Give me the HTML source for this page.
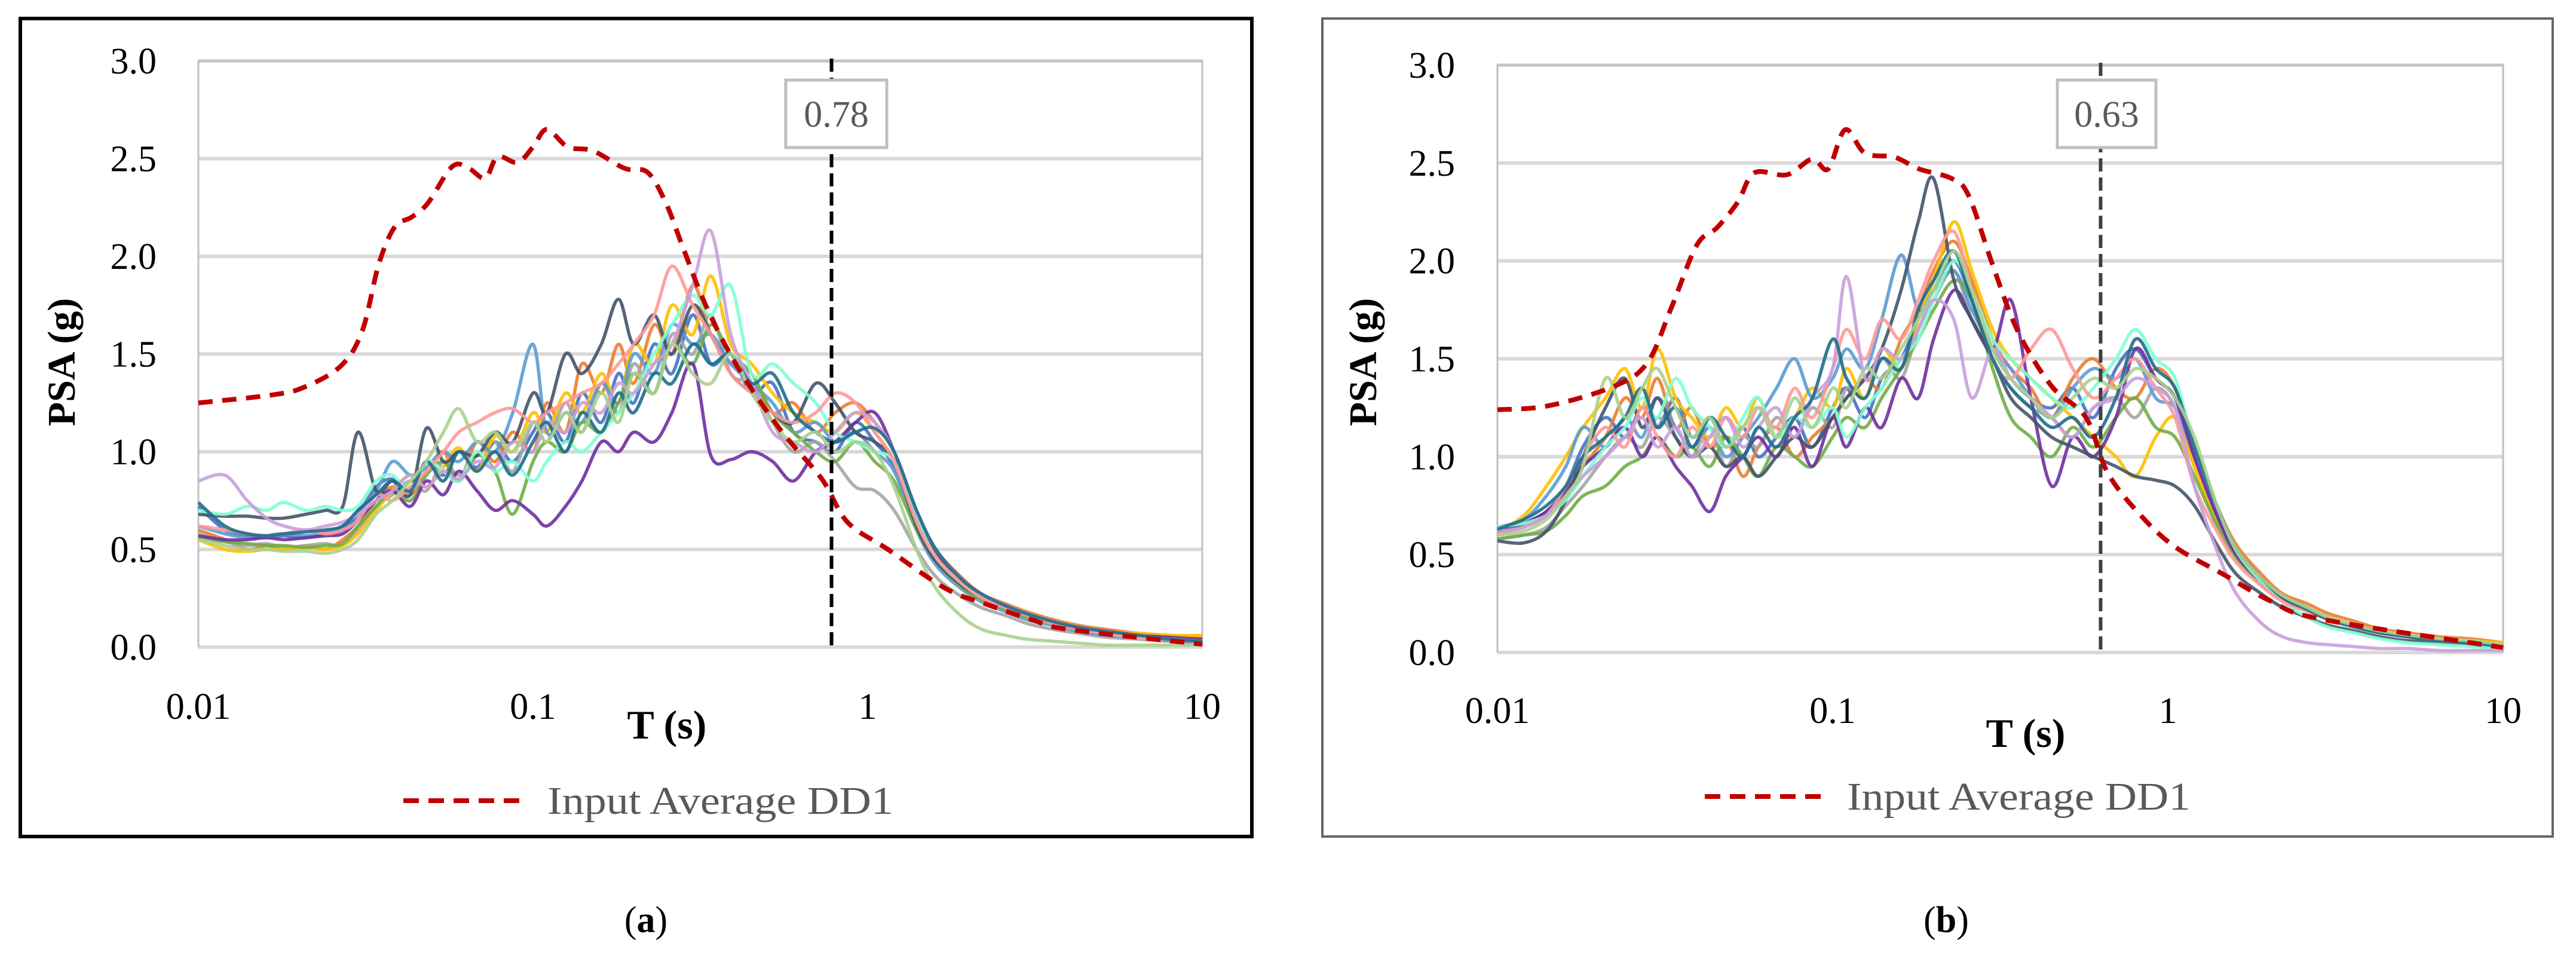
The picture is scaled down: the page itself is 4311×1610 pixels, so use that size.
<!DOCTYPE html>
<html><head><meta charset="utf-8"><style>
html,body{margin:0;padding:0;background:#fff}
svg{display:block}
text{font-family:"Liberation Serif",serif}
</style></head><body>
<svg id="fig" width="4311" height="1610" viewBox="0 0 4311 1610" xmlns="http://www.w3.org/2000/svg">
<rect x="0" y="0" width="4311" height="1610" fill="#fff"/>
<rect x="34" y="31" width="2061" height="1369" fill="none" stroke="#000" stroke-width="6"/>
<rect x="2213" y="31" width="2059" height="1369" fill="none" stroke="#666" stroke-width="4"/>
<g id="pa"></g>
<g id="pb"></g>
<text x="1081" y="1560" font-size="62" text-anchor="middle">(<tspan font-weight="bold">a</tspan>)</text>
<text x="3257" y="1560" font-size="62" text-anchor="middle">(<tspan font-weight="bold">b</tspan>)</text>
</svg>
<script>
const periods=[0.01,0.012,0.014,0.016,0.018,0.021,0.024,0.027,0.03,0.034,0.038,0.043,0.048,0.054,0.06,0.068,0.077,0.087,0.1,0.11,0.125,0.14,0.16,0.18,0.2,0.23,0.26,0.3,0.34,0.39,0.45,0.52,0.6,0.7,0.8,0.92,1.05,1.2,1.4,1.6,1.9,2.2,2.6,3.0,3.6,4.3,5.2,6.5,8,10];
const yTicks=[0,0.5,1,1.5,2,2.5,3];
const yTickLabels=["0.0","0.5","1.0","1.5","2.0","2.5","3.0"];
const xTicks=[0.01,0.1,1,10];
const xTickLabels=["0.01","0.1","1","10"];
const seriesColors=["#4472c4","#ed7d31","#a5a5a5","#ffc000","#5b9bd5","#70ad47","#7030a0","#44546a","#7fffd4","#ff9999","#c9a0dc","#1f6e8c","#a9d18e","#9e480e"];
const avgPeriodsA=[0.01,0.0165,0.0207,0.0267,0.0309,0.0346,0.0386,0.0433,0.0484,0.0574,0.0643,0.072,0.0784,0.0899,0.1,0.11,0.127,0.151,0.188,0.22,0.25,0.28,0.33,0.41,0.55,0.73,0.87,1.15,1.71,2.26,3.1,4.0,10];
const avgValuesA=[1.25,1.29,1.33,1.44,1.62,1.96,2.15,2.2,2.27,2.46,2.45,2.4,2.51,2.48,2.56,2.65,2.56,2.54,2.45,2.43,2.27,2.05,1.74,1.43,1.11,0.86,0.64,0.5,0.3,0.22,0.14,0.09,0.015];
const avgPeriodsB=[0.01,0.0142,0.0223,0.028,0.033,0.0393,0.0452,0.0521,0.0584,0.073,0.0868,0.097,0.109,0.125,0.153,0.181,0.227,0.255,0.3,0.357,0.45,0.57,0.66,0.83,1.05,1.46,2.04,2.87,10];
const avgValuesB=[1.24,1.26,1.36,1.48,1.76,2.08,2.17,2.3,2.45,2.44,2.52,2.47,2.67,2.55,2.53,2.47,2.42,2.33,1.98,1.64,1.36,1.2,0.92,0.7,0.54,0.4,0.26,0.17,0.025];
const seriesA=[
[0.72,0.60,0.57,0.56,0.57,0.56,0.58,0.60,0.68,0.82,0.86,0.80,0.95,0.88,1.00,0.92,1.05,0.95,1.10,1.20,1.05,1.30,1.15,1.40,1.25,1.55,1.40,1.70,1.45,1.50,1.30,1.35,1.10,1.05,1.00,1.15,1.05,0.92,0.62,0.45,0.33,0.25,0.20,0.16,0.12,0.09,0.07,0.05,0.03,0.02],
[0.60,0.55,0.50,0.52,0.50,0.52,0.50,0.55,0.62,0.75,0.82,0.78,0.90,1.00,0.85,1.05,0.95,1.10,1.00,1.25,1.10,1.45,1.30,1.55,1.35,1.65,1.50,1.85,1.60,1.45,1.40,1.20,1.25,1.10,1.20,1.25,1.15,1.00,0.70,0.50,0.36,0.27,0.22,0.18,0.14,0.11,0.09,0.07,0.06,0.05],
[0.58,0.54,0.52,0.53,0.51,0.52,0.53,0.52,0.60,0.72,0.78,0.85,0.80,0.95,0.88,0.98,1.05,0.90,1.15,1.05,1.25,1.10,1.35,1.20,1.45,1.30,1.60,1.50,1.70,1.40,1.35,1.15,1.00,1.05,0.95,0.82,0.80,0.70,0.50,0.36,0.26,0.20,0.16,0.12,0.09,0.07,0.05,0.04,0.03,0.02],
[0.55,0.50,0.49,0.50,0.50,0.51,0.50,0.52,0.58,0.70,0.80,0.88,0.82,0.92,1.02,0.90,1.08,1.00,1.20,1.10,1.30,1.20,1.40,1.25,1.55,1.45,1.75,1.60,1.90,1.55,1.45,1.30,1.20,1.15,1.10,1.20,1.10,0.95,0.65,0.48,0.34,0.26,0.21,0.17,0.13,0.10,0.08,0.07,0.06,0.06],
[0.62,0.58,0.56,0.57,0.58,0.57,0.59,0.62,0.70,0.80,0.95,0.88,0.92,1.00,0.95,1.05,1.00,1.20,1.55,1.10,1.20,1.15,1.35,1.25,1.50,1.40,1.65,1.55,1.60,1.45,1.35,1.25,1.10,1.15,1.05,1.10,1.00,0.90,0.60,0.42,0.30,0.23,0.18,0.14,0.11,0.08,0.06,0.05,0.04,0.03],
[0.56,0.54,0.53,0.52,0.52,0.51,0.52,0.53,0.62,0.72,0.80,0.75,0.88,0.95,0.85,0.98,0.90,0.68,0.95,1.05,1.00,1.15,1.10,1.25,1.40,1.30,1.55,1.45,1.65,1.50,1.40,1.20,1.10,1.00,0.95,1.05,0.95,0.85,0.60,0.44,0.31,0.24,0.19,0.15,0.12,0.09,0.07,0.05,0.04,0.03],
[0.57,0.55,0.55,0.56,0.55,0.56,0.57,0.58,0.65,0.75,0.80,0.72,0.85,0.78,0.90,0.80,0.70,0.75,0.68,0.62,0.72,0.85,1.05,1.00,1.10,1.05,1.20,1.45,0.98,0.96,1.00,0.95,0.85,1.00,1.05,1.15,1.20,1.00,0.68,0.48,0.34,0.26,0.21,0.17,0.13,0.10,0.08,0.06,0.05,0.04],
[0.68,0.67,0.67,0.66,0.66,0.68,0.70,0.72,1.10,0.80,0.85,0.78,1.12,0.95,1.00,0.98,1.10,1.05,1.30,1.20,1.50,1.40,1.55,1.78,1.55,1.70,1.50,1.75,1.60,1.40,1.30,1.20,1.15,1.35,1.25,1.10,1.05,0.95,0.62,0.44,0.32,0.25,0.20,0.16,0.13,0.10,0.08,0.06,0.04,0.03],
[0.70,0.68,0.72,0.70,0.74,0.70,0.72,0.70,0.72,0.85,0.88,0.80,0.95,0.90,0.85,1.00,0.90,0.95,0.85,0.95,1.05,1.00,1.10,1.20,1.30,1.50,1.65,1.80,1.70,1.85,1.40,1.45,1.35,1.25,1.10,1.05,1.00,0.95,0.66,0.46,0.33,0.26,0.21,0.17,0.13,0.10,0.07,0.05,0.04,0.03],
[0.62,0.60,0.58,0.57,0.58,0.60,0.58,0.60,0.65,0.78,0.75,0.82,0.90,1.00,1.10,1.15,1.20,1.22,1.15,1.20,1.25,1.30,1.35,1.45,1.55,1.70,1.95,1.75,1.60,1.40,1.30,1.20,1.15,1.20,1.30,1.25,1.10,0.95,0.64,0.46,0.33,0.25,0.20,0.16,0.12,0.09,0.07,0.05,0.04,0.03],
[0.85,0.88,0.75,0.66,0.62,0.60,0.62,0.64,0.68,0.75,0.80,0.88,0.82,0.90,0.86,0.95,0.92,1.05,1.00,1.15,1.10,1.25,1.20,1.35,1.30,1.45,1.55,1.85,2.13,1.60,1.35,1.10,1.05,1.00,1.10,1.20,1.15,1.00,0.70,0.50,0.35,0.27,0.21,0.17,0.13,0.10,0.08,0.06,0.04,0.03],
[0.74,0.62,0.58,0.57,0.58,0.59,0.60,0.62,0.70,0.78,0.85,0.80,0.95,0.85,1.00,0.90,1.00,0.88,1.05,1.15,1.00,1.20,1.10,1.30,1.20,1.40,1.35,1.55,1.45,1.50,1.35,1.40,1.20,1.10,1.05,1.10,1.12,1.00,0.70,0.50,0.35,0.27,0.21,0.17,0.13,0.10,0.08,0.06,0.04,0.03],
[0.55,0.52,0.50,0.50,0.49,0.49,0.48,0.50,0.55,0.68,0.75,0.85,0.95,1.10,1.22,1.05,1.10,1.00,1.15,1.05,1.20,1.10,1.30,1.15,1.40,1.30,1.55,1.40,1.35,1.50,1.30,1.15,1.05,1.10,1.00,1.05,1.00,0.82,0.50,0.30,0.16,0.09,0.06,0.04,0.03,0.02,0.01,0.01,0.01,0.01]
];
const seriesB=[
[0.62,0.66,0.72,0.85,1.05,1.20,1.10,1.25,1.15,1.30,1.10,1.20,1.05,1.15,1.00,1.10,1.20,1.05,1.25,1.35,1.20,1.40,1.50,1.70,1.85,2.00,1.80,1.55,1.40,1.30,1.25,1.35,1.20,1.45,1.55,1.40,1.30,1.00,0.72,0.52,0.38,0.29,0.23,0.18,0.14,0.11,0.09,0.07,0.05,0.03],
[0.60,0.65,0.70,0.80,0.95,1.10,1.30,1.20,1.40,1.15,1.25,1.05,1.10,0.90,1.05,1.15,1.00,1.10,1.20,1.30,1.40,1.35,1.60,1.75,1.95,2.10,1.90,1.60,1.45,1.35,1.20,1.40,1.50,1.35,1.30,1.45,1.35,1.05,0.75,0.55,0.40,0.30,0.25,0.20,0.16,0.12,0.10,0.08,0.07,0.05],
[0.58,0.60,0.64,0.75,0.85,1.00,1.10,1.05,1.20,1.10,1.00,1.15,0.95,1.10,1.05,1.20,1.10,1.25,1.15,1.35,1.30,1.50,1.40,1.65,1.80,1.95,1.70,1.50,1.35,1.25,1.20,1.10,1.25,1.30,1.20,1.35,1.25,0.95,0.68,0.50,0.36,0.27,0.22,0.17,0.13,0.10,0.08,0.06,0.05,0.03],
[0.62,0.70,0.85,1.00,1.15,1.30,1.45,1.25,1.55,1.30,1.20,1.10,1.25,1.15,1.30,1.10,1.20,1.35,1.25,1.45,1.30,1.55,1.45,1.70,1.90,2.20,1.95,1.65,1.50,1.40,1.30,1.20,1.10,1.00,0.90,1.10,1.20,0.95,0.66,0.48,0.35,0.27,0.22,0.18,0.14,0.11,0.09,0.07,0.06,0.05],
[0.64,0.68,0.80,0.95,1.15,1.05,1.20,1.10,1.30,1.15,1.05,1.15,1.00,1.10,1.20,1.35,1.50,1.30,1.40,1.55,1.45,1.70,2.03,1.75,1.85,1.95,1.75,1.55,1.45,1.30,1.20,1.35,1.45,1.40,1.50,1.30,1.25,1.00,0.70,0.51,0.37,0.28,0.22,0.17,0.13,0.10,0.08,0.06,0.05,0.03],
[0.58,0.60,0.62,0.70,0.80,0.85,0.95,1.00,1.10,1.00,1.05,0.95,1.10,1.00,0.90,1.05,1.00,0.95,1.10,1.20,1.15,1.30,1.45,1.60,1.75,1.90,1.80,1.45,1.20,1.10,1.00,1.15,1.05,1.20,1.30,1.15,1.10,0.90,0.65,0.48,0.35,0.27,0.22,0.17,0.13,0.10,0.08,0.06,0.05,0.03],
[0.62,0.66,0.72,0.82,0.95,1.05,1.15,1.00,1.10,0.95,0.85,0.72,0.90,1.00,1.10,1.00,1.15,0.95,1.20,1.05,1.25,1.15,1.40,1.30,1.60,1.85,1.70,1.55,1.80,1.30,0.85,1.10,1.00,1.20,1.55,1.40,1.30,1.00,0.70,0.50,0.36,0.27,0.22,0.17,0.13,0.10,0.08,0.06,0.05,0.03],
[0.57,0.56,0.62,0.78,1.00,1.25,1.40,1.15,1.30,1.10,1.00,1.05,0.95,1.00,0.90,1.00,1.10,1.05,1.20,1.30,1.40,1.55,1.85,2.20,2.42,1.90,1.70,1.50,1.30,1.20,1.10,1.05,1.00,0.95,0.90,0.88,0.85,0.75,0.55,0.40,0.30,0.23,0.18,0.14,0.11,0.08,0.06,0.05,0.04,0.02],
[0.64,0.66,0.70,0.78,0.90,1.05,1.15,1.30,1.20,1.40,1.25,1.15,1.05,1.20,1.30,1.10,1.20,1.15,1.25,1.10,1.25,1.35,1.50,1.60,1.80,2.00,1.85,1.60,1.50,1.40,1.30,1.25,1.35,1.50,1.65,1.50,1.40,1.05,0.75,0.52,0.36,0.26,0.18,0.13,0.10,0.07,0.05,0.04,0.03,0.02],
[0.60,0.64,0.70,0.85,1.00,1.15,1.05,1.25,1.10,1.00,1.15,1.05,1.20,1.10,1.25,1.15,1.35,1.20,1.45,1.65,1.50,1.70,1.60,1.80,2.00,2.15,1.85,1.50,1.40,1.55,1.65,1.45,1.30,1.40,1.50,1.35,1.20,0.85,0.62,0.46,0.34,0.26,0.21,0.17,0.13,0.10,0.08,0.06,0.05,0.03],
[0.62,0.64,0.70,0.80,0.90,1.00,1.10,1.20,1.05,1.15,1.00,1.10,1.20,1.05,1.15,1.25,1.10,1.30,1.45,1.92,1.40,1.55,1.50,1.65,1.80,1.70,1.30,1.55,1.40,1.30,1.20,1.10,1.25,1.30,1.40,1.35,1.25,0.85,0.52,0.30,0.15,0.08,0.05,0.04,0.03,0.02,0.02,0.01,0.01,0.01],
[0.63,0.68,0.75,0.85,1.00,1.10,1.20,1.35,1.15,1.25,1.05,1.20,1.10,1.00,1.15,1.05,1.20,1.30,1.60,1.40,1.30,1.50,1.45,1.75,1.90,2.05,1.80,1.50,1.35,1.25,1.15,1.20,1.10,1.30,1.60,1.45,1.35,1.05,0.75,0.53,0.38,0.28,0.22,0.17,0.13,0.10,0.08,0.06,0.05,0.03],
[0.60,0.62,0.68,0.80,0.95,1.40,1.20,1.35,1.45,1.25,1.10,1.20,1.05,1.15,1.25,1.10,1.30,1.15,1.35,1.25,1.45,1.40,1.55,1.70,1.85,2.05,1.85,1.55,1.40,1.30,1.20,1.30,1.40,1.35,1.45,1.40,1.30,1.10,0.75,0.53,0.38,0.29,0.23,0.18,0.14,0.11,0.09,0.07,0.06,0.04]
];
const markerA=[0.78];
const markerB=[0.63];

const NS="http://www.w3.org/2000/svg";
function mk(tag,attrs,parent){const e=document.createElementNS(NS,tag);for(const k in attrs)e.setAttribute(k,attrs[k]);parent.appendChild(e);return e;}
function smooth(pts){let d="M"+pts[0][0].toFixed(1)+","+pts[0][1].toFixed(1);for(let i=0;i<pts.length-1;i++){const p0=pts[Math.max(i-1,0)],p1=pts[i],p2=pts[i+1],p3=pts[Math.min(i+2,pts.length-1)];const c1x=p1[0]+(p2[0]-p0[0])/6,c1y=p1[1]+(p2[1]-p0[1])/6,c2x=p2[0]-(p3[0]-p1[0])/6,c2y=p2[1]-(p3[1]-p1[1])/6;d+="C"+c1x.toFixed(1)+","+c1y.toFixed(1)+" "+c2x.toFixed(1)+","+c2y.toFixed(1)+" "+p2[0].toFixed(1)+","+p2[1].toFixed(1);}return d;}

function drawPanel(g,cfg,series,avgP,avgV,marker){
  const xs=t=>cfg.x0+(Math.log10(t)+2)/3*(cfg.x1-cfg.x0);
  const ys=v=>cfg.y0-v/3*(cfg.y0-cfg.y3);
  yTicks.forEach((v,i)=>{
    const l=mk("line",{x1:cfg.x0,x2:cfg.x1,y1:ys(v),y2:ys(v),stroke:"#d9d9d9","stroke-width":6},g);
    
    
    const t=mk("text",{x:cfg.ylx,y:ys(v)+21,"font-size":62,"text-anchor":"end"},g);
    t.textContent=yTickLabels[i];
    
    
  });
  const fr=mk("path",{d:`M${cfg.x0},${cfg.y0}V${cfg.y3}H${cfg.x1}V${cfg.y0}`,fill:"none",stroke:"#bfbfbf","stroke-width":3},g);
  
  
  xTicks.forEach((v,i)=>{
    const t=mk("text",{x:xs(v),y:cfg.xly,"font-size":62,"text-anchor":"middle"},g);
    t.textContent=xTickLabels[i];
    
    
  });
  series.forEach((s,k)=>{
    const pts=s.map((v,i)=>[xs(periods[i]),ys(v)]);
    const p=mk("path",{d:smooth(pts),fill:"none",stroke:seriesColors[k%seriesColors.length],"stroke-width":5.5,"stroke-opacity":0.9,"stroke-linejoin":"round"},g);
    
    
  });
  const ap=avgP.map((t,i)=>[xs(t),ys(avgV[i])]);
  const av=mk("path",{d:smooth(ap),fill:"none",stroke:"#c00000","stroke-width":8,"stroke-dasharray":"24 16"},g);
  
  
  const mx=xs(marker[0]);
  const vl=mk("line",{x1:mx,x2:mx,y1:cfg.y3-4,y2:cfg.y0,stroke:cfg.vcol,"stroke-width":6,"stroke-dasharray":"22 10"},g);
  
  
  const bx=mk("rect",{x:cfg.bx0,y:134,width:cfg.bx1-cfg.bx0,height:113,fill:"#fff",stroke:"#bfbfbf","stroke-width":5},g);
  
  
  const bt=mk("text",{x:(cfg.bx0+cfg.bx1)/2,y:212,"font-size":62,"text-anchor":"middle",fill:"#595959"},g);
  bt.textContent=marker[0].toFixed(2);
  
  
  const xt=mk("text",{x:cfg.xtx,y:cfg.xty,"font-size":68,"font-weight":"bold","text-anchor":"middle"},g);
  xt.textContent="T (s)";
  
  
  const yt=mk("text",{x:0,y:0,"font-size":66,"font-weight":"bold","text-anchor":"middle",transform:`translate(${cfg.ytx+22},${606}) rotate(-90)`},g);
  yt.textContent="PSA (g)";
  
  
  const lg=mk("line",{x1:cfg.lg0,x2:cfg.lg1,y1:cfg.lgy,y2:cfg.lgy,stroke:"#c00000","stroke-width":8,"stroke-dasharray":"26 16"},g);
  
  
  const lt=mk("text",{x:cfg.lt0,y:cfg.lgy+22,"font-size":66,fill:"#595959",textLength:cfg.ltw,lengthAdjust:"spacingAndGlyphs"},g);
  lt.textContent="Input Average DD1";
  
  
}
drawPanel(document.getElementById('pa'),{x0:332,x1:2012,y0:1083,y3:102,ylx:262,xly:1203,vcol:"#000",bx0:1315,bx1:1484,xtx:1116,xty:1236,ytx:103,lg0:675,lg1:882,lgy:1340,lt0:916,ltw:579},seriesA,avgPeriodsA,avgValuesA,markerA);
drawPanel(document.getElementById('pb'),{x0:2506,x1:4189,y0:1092,y3:109,ylx:2435,xly:1210,vcol:"#404040",bx0:3443,bx1:3608,xtx:3390,xty:1250,ytx:2281,lg0:2853,lg1:3059,lgy:1333,lt0:3091,ltw:575},seriesB,avgPeriodsB,avgValuesB,markerB);
</script>
</body></html>
